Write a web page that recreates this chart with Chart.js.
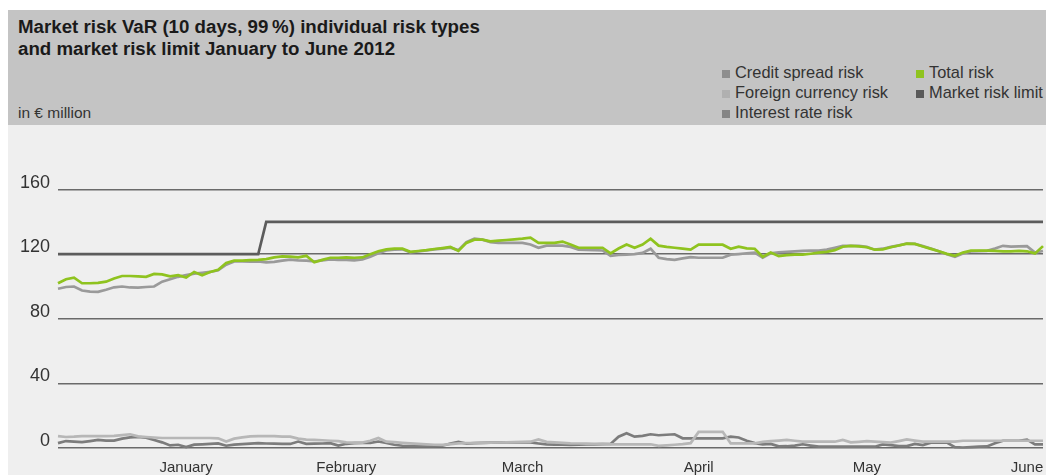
<!DOCTYPE html>
<html>
<head>
<meta charset="utf-8">
<script src="https://cdn.jsdelivr.net/npm/chart.js@4.4.1/dist/chart.umd.min.js"></script>
<style>
  body { margin: 0; background: #fff; font-family: "Liberation Sans", Arial, sans-serif; color: #333; }
  #wrap { position: absolute; left: 8px; top: 10px; width: 1038px; height: 465px; }
  #head { position: relative; height: 115px; background: #c4c4c4; }
  #title { position: absolute; left: 10px; top: 6px; font-weight: bold; font-size: 18.7px; line-height: 22px; color: #1a1a1a; white-space: nowrap; }
  #unit { position: absolute; left: 10px; top: 94px; font-size: 15.5px; line-height: 18px; color: #333; }
  #legend { position: absolute; left: 714px; top: 52px; font-size: 16.4px; line-height: 20px; color: #333; }
  #legend .col { position: absolute; top: 0; white-space: nowrap; }
  #legend .item { height: 20px; }
  #legend .sw { display: inline-block; width: 8px; height: 8px; margin-right: 5px; vertical-align: 0px; }
  #plot { position: relative; height: 350px; background: #efefef; }
</style>
</head>
<body>
<div id="wrap">
  <div id="head">
    <div id="title">Market risk VaR (10 days, 99&#8201;%) individual risk types<br>and market risk limit January to June 2012</div>
    <div id="unit">in € million</div>
    <div id="legend"></div>
  </div>
  <div id="plot"><canvas id="varChart" width="1038" height="350"></canvas></div>
</div>
<script>
// Trading days January to June 2012 (one entry per sampled day)
const dayCount = 124;
const days = Array.from({ length: dayCount }, (_, i) => i);

// Month labels and the day index they sit under
const monthNames = ['January', 'February', 'March', 'April', 'May', 'June'];
const monthTickIdx = [16, 36, 58, 80, 101, 121];

// y axis ticks shown (in € million)
const yTicks = [0, 40, 80, 120, 160];

const totalRisk = [
  102, 104.5, 105.5, 102, 102, 102.3, 103, 105, 106.5, 106.5,
  106.3, 106, 107.8, 107.5, 106.3, 107, 105.5, 109, 107, 109,
  110.4, 114.5, 116, 116, 116.3, 116.5, 117, 118, 118.6, 118.5,
  118, 119, 115, 116.5, 117.8, 117.8, 118, 117.8, 118, 120,
  121.8, 123, 123.4, 123.4, 121.5, 122, 122.5, 123.2, 123.8, 124.5,
  122, 127, 129, 129, 128, 128.4, 128.8, 129.2, 129.6, 130.2,
  127, 127, 127, 127.8, 126, 124, 124, 124, 124, 120.5,
  123.5, 126, 124, 126, 129.6, 125.3, 124.5, 124, 123.4, 122.8,
  125.9, 125.9, 125.9, 125.9, 123.4, 124.7, 123.6, 123.4, 118.4, 121,
  118.8, 119.4, 119.7, 119.7, 120.3, 121, 121.4, 122.5, 124.6, 125.2,
  124.9, 124.3, 122.8, 123, 124.3, 125.4, 126.5, 126.4, 124.8, 123.3,
  121.8, 120.2, 119, 121, 122.2, 122.2, 122.2, 122, 121.7, 121.8,
  122, 121.8, 120.5, 125
];

const creditSpread = [
  98.6, 99.7, 100, 97.5, 96.8, 96.7, 98, 99.5, 100, 99.4,
  99.3, 99.7, 100, 103, 104.5, 106, 107, 108, 108.5, 109,
  110, 113.5, 115.5, 115.5, 115.4, 115.6, 115, 115.3, 116, 116.6,
  116.2, 116, 115.5, 116.2, 116.8, 116.5, 116.4, 116.2, 116.8, 118.5,
  120.6, 122.3, 122.8, 123, 121.2, 121.8, 122.3, 123, 123.5, 124,
  122.5, 127.5, 129.6, 129, 127.5, 127, 127, 127, 127, 126,
  124, 125.3, 125.3, 125.3, 124.5, 122.8, 122.6, 122.5, 122.3, 119,
  119.5, 119.7, 120, 120.8, 123.4, 117.8, 117, 116.5, 117.4, 118.2,
  117.8, 117.8, 117.8, 117.8, 119.7, 120.1, 120.6, 121, 117.8, 120.5,
  121.2, 121.5, 121.7, 122, 122.2, 122.2, 122.8, 124, 125.2, 125.2,
  125.1, 124.5, 122.8, 123.4, 124.5, 125.5, 126.6, 126.4, 125, 123.5,
  121.8, 120, 118.4, 120.5, 121.7, 121.9, 122.1, 123.5, 125.2, 124.7,
  124.9, 125, 121, 122
];

const foreignCurrency = [
  7.4, 6.8, 7, 7.4, 7.4, 7.4, 7.4, 7.5, 8, 8.5,
  7.2, 6.8, 6.5, 6.2, 6.2, 6.2, 6.2, 6.2, 6.2, 6.2,
  6, 4, 5.8, 6.6, 7.2, 7.4, 7.4, 7.3, 7.1, 7,
  5.8, 5.2, 5, 4.8, 4.5, 4.2, 3.5, 3.3, 3.3, 4.5,
  6.2, 3.9, 3.6, 3.2, 2.9, 2.6, 2.3, 2, 1.9, 2.4,
  2.9, 3, 3.1, 3.2, 3.3, 3.4, 3.5, 3.6, 3.8, 3.9,
  5.3, 3.8, 3.5, 3.2, 2.9, 2.8, 2.7, 2.6, 2.5, 2.3,
  2.3, 2.3, 2.3, 2.3, 2.3, 1.3, 1.6, 2, 2.4, 3,
  10, 10, 10, 10, 2.9, 2.9, 2.9, 2.9, 3.8, 4.2,
  4.6, 5, 4.5, 3.9, 3.9, 3.9, 3.9, 3.9, 5, 3.5,
  3.8, 4.2, 4, 3.6, 3.3, 4.3, 5.3, 4.6, 3.9, 3.9,
  3.9, 3.9, 4, 4.5, 4.5, 4.5, 4.5, 4.5, 4.5, 4.5,
  4.5, 4.5, 4.5, 4.5
];

const interestRate = [
  3, 4.3, 4, 3.7, 4.3, 5, 4.6, 4.6, 5.8, 6.6,
  6.8, 6.4, 5, 3.5, 1.6, 2, 0.6, 2.1, 2.3, 2.6,
  2.8, 1.4, 2.1, 2.4, 2.7, 3, 2.8, 2.7, 2.6, 2.5,
  4, 2.6, 2.7, 2.8, 3, 1.5, 2.6, 3, 3.1, 3.2,
  4, 3.2, 2, 1.4, 1.2, 1.2, 1.2, 1.2, 1.4, 2.7,
  3.8, 2.7, 3, 3.2, 3.3, 3.4, 3.5, 3.5, 3.5, 3.5,
  2.8, 2.2, 2.1, 2, 1.9, 2, 2.2, 2.3, 2.4, 2.5,
  7, 9.2, 7, 7.5, 8.5, 7.9, 8.2, 8.5, 6, 6,
  6, 6, 6, 6, 7, 6.5, 4.5, 3, 2.3, 2.5,
  1, 1.1, 1.5, 2.3, 1.5, 0.8, 0.8, 0.8, 0.8, 0.8,
  0.8, 0.8, 0.8, 2.2, 1.8, 1.2, 1.2, 2.5, 1.8, 3.3,
  3.3, 3.3, 0.5, 0.3, 0.5, 0.8, 1, 3, 4.5, 4.5,
  4.5, 5.2, 2.2, 2.3
];

// Limit raised from 120 to 140 in late January
const marketRiskLimit = [
  120, 120, 120, 120, 120, 120, 120, 120, 120, 120,
  120, 120, 120, 120, 120, 120, 120, 120, 120, 120,
  120, 120, 120, 120, 120, 120, 140, 140, 140, 140,
  140, 140, 140, 140, 140, 140, 140, 140, 140, 140,
  140, 140, 140, 140, 140, 140, 140, 140, 140, 140,
  140, 140, 140, 140, 140, 140, 140, 140, 140, 140,
  140, 140, 140, 140, 140, 140, 140, 140, 140, 140,
  140, 140, 140, 140, 140, 140, 140, 140, 140, 140,
  140, 140, 140, 140, 140, 140, 140, 140, 140, 140,
  140, 140, 140, 140, 140, 140, 140, 140, 140, 140,
  140, 140, 140, 140, 140, 140, 140, 140, 140, 140,
  140, 140, 140, 140, 140, 140, 140, 140, 140, 140,
  140, 140, 140, 140
];

const series = [
  { label: 'Credit spread risk',    data: creditSpread,    line: '#9a9a9a', swatch: '#8e8e8e', order: 1 },
  { label: 'Foreign currency risk', data: foreignCurrency, line: '#b7b7b7', swatch: '#b0b0b0', order: 3 },
  { label: 'Interest rate risk',    data: interestRate,    line: '#7c7c7c', swatch: '#858585', order: 4 },
  { label: 'Total risk',            data: totalRisk,       line: '#8fc31f', swatch: '#8fc31f', order: 0 },
  { label: 'Market risk limit',     data: marketRiskLimit, line: '#5c5c5c', swatch: '#5a5a5a', order: 2 }
];

// legend in the header, two columns
function buildLegend() {
  const legend = document.getElementById('legend');
  const cols = [[0, 1, 2], [3, 4]];
  const colX = [0, 194];
  cols.forEach((idxs, c) => {
    const col = document.createElement('div');
    col.className = 'col';
    col.style.left = colX[c] + 'px';
    idxs.forEach(i => {
      const item = document.createElement('div');
      item.className = 'item';
      item.innerHTML = '<span class="sw" style="background:' + series[i].swatch + '"></span>' + series[i].label;
      col.appendChild(item);
    });
    legend.appendChild(col);
  });
}

function initVarChart() {
  const ctx = document.getElementById('varChart').getContext('2d');
  new Chart(ctx, {
    type: 'line',
    data: {
      labels: days,
      datasets: series.map(s => ({
        label: s.label,
        data: s.data,
        borderColor: s.line,
        borderWidth: 2.7,
        pointRadius: 0,
        tension: 0,
        fill: false,
        order: s.order,
        clip: false
      }))
    },
    options: {
      responsive: false,
      animation: false,
      layout: { padding: { left: 0, right: 3, top: 0, bottom: 0 } },
      plugins: { legend: { display: false }, tooltip: { enabled: false } },
      scales: {
        x: {
          type: 'category',
          offset: false,
          grid: { display: false, drawTicks: false },
          border: { display: false },
          ticks: {
            autoSkip: false,
            maxRotation: 0,
            padding: 11,
            color: '#333',
            font: { family: '"Liberation Sans", Arial, sans-serif', size: 15 },
            callback: (v, i) => {
              const k = monthTickIdx.indexOf(i);
              return k >= 0 ? monthNames[k] : '';
            }
          },
          afterFit: scale => {
            scale.height = 27;
            scale.paddingLeft = 0;
            scale.paddingRight = 0;
          }
        },
        y: {
          min: 0,
          max: 200,
          afterBuildTicks: scale => { scale.ticks = yTicks.concat([200]).map(v => ({ value: v })); },
          grid: {
            drawTicks: false,
            lineWidth: 1.5,
            color: c => (c.tick && c.tick.value === 200) ? 'rgba(0,0,0,0)' : '#6a6a6a'
          },
          border: { display: false },
          ticks: {
            padding: 8,
            labelOffset: -7,
            color: '#333',
            font: { family: '"Liberation Sans", Arial, sans-serif', size: 18 },
            callback: v => (v === 200 ? '' : v)
          },
          afterFit: scale => {
            scale.width = 50;
            scale.paddingTop = 0;
            scale.paddingBottom = 0;
          }
        }
      }
    }
  });
}

document.addEventListener('DOMContentLoaded', function () {
  buildLegend();
  initVarChart();
});
</script>
</body>
</html>
